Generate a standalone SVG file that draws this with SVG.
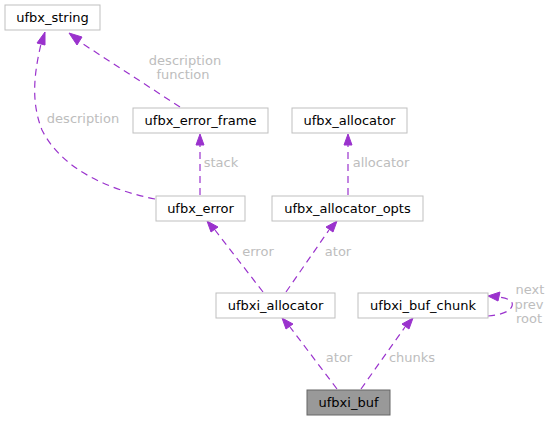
<svg xmlns="http://www.w3.org/2000/svg" width="551" height="421" viewBox="0 0 551 421">
<style>
.n rect{fill:#ffffff;stroke:#bfbfbf;stroke-width:1}
.n text{font-family:"DejaVu Sans",sans-serif;font-size:13px;fill:#000000;text-anchor:middle}
#edges path{fill:none;stroke:#9a32cd;stroke-width:1.2;stroke-dasharray:7,5}
#edges polygon{fill:#9a32cd;stroke:#9a32cd}
.lbl{font-family:"DejaVu Sans",sans-serif;font-size:13px;fill:#bdbdbd;text-anchor:middle}
</style>
<rect width="551" height="421" fill="#ffffff"/>
<g id="edges">
<path d="M337,389 L290,327"/>
<polygon points="282,318 293,324 286,329"/>
<path d="M361,389 L405,327"/>
<polygon points="413,318 409,329 402,324"/>
<path d="M263,292 L215,230"/>
<polygon points="207,221 218,227 211,232"/>
<path d="M286,292 L329,230"/>
<polygon points="337,221 333,232 326,227"/>
<path d="M348,195 L348,144"/>
<polygon points="348,134 352,145 344,145"/>
<path d="M200,195 L200,144"/>
<polygon points="200,134 204,145 196,145"/>
<path d="M155,199 C110,190 62,170 42,130 C30,100 35,70 41,44"/>
<polygon points="45,32 45,45 37,43"/>
<path d="M180,107 L80,42"/>
<polygon points="69,33 82,37 77,45"/>
<path d="M488,316 C500,315 510,312 512,306 C514,300 506,298 498,297"/>
<polygon points="488,296 500,292 498,301"/>
<text class="lbl" x="339" y="362">ator</text>
<text class="lbl" x="412" y="362">chunks</text>
<text class="lbl" x="258" y="256">error</text>
<text class="lbl" x="338" y="256">ator</text>
<text class="lbl" x="381" y="167">allocator</text>
<text class="lbl" x="221" y="167">stack</text>
<text class="lbl" x="83" y="123">description</text>
<text class="lbl" x="185" y="65">description</text>
<text class="lbl" x="183" y="79">function</text>
<text class="lbl" x="530" y="294">next</text>
<text class="lbl" x="529" y="309">prev</text>
<text class="lbl" x="529" y="323">root</text>
</g>
<g id="ufbx_string" class="n"><rect x="5" y="5" width="95" height="25"/><text x="52.5" y="22">ufbx_string</text></g>
<g id="ufbx_error_frame" class="n"><rect x="133" y="108" width="135" height="25"/><text x="200.5" y="125">ufbx_error_frame</text></g>
<g id="ufbx_allocator" class="n"><rect x="292" y="108" width="115" height="25"/><text x="349.5" y="125">ufbx_allocator</text></g>
<g id="ufbx_error" class="n"><rect x="156" y="196" width="89" height="25"/><text x="200.5" y="213">ufbx_error</text></g>
<g id="ufbx_allocator_opts" class="n"><rect x="272" y="196" width="151" height="25"/><text x="347.5" y="213">ufbx_allocator_opts</text></g>
<g id="ufbxi_allocator" class="n"><rect x="216" y="293" width="119" height="25"/><text x="275.5" y="310">ufbxi_allocator</text></g>
<g id="ufbxi_buf_chunk" class="n"><rect x="358" y="293" width="130" height="25"/><text x="423" y="310">ufbxi_buf_chunk</text></g>
<g id="ufbxi_buf" class="n"><rect x="307" y="390" width="83" height="25" style="fill:#999999;stroke:#666666"/><text x="348.5" y="407">ufbxi_buf</text></g>
</svg>
